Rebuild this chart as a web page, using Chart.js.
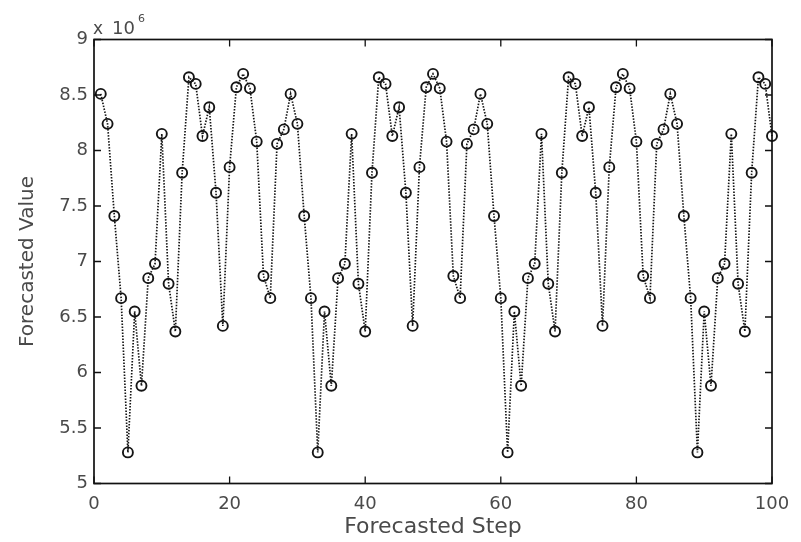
<!DOCTYPE html>
<html>
<head>
<meta charset="utf-8">
<script src="https://cdn.jsdelivr.net/npm/chart.js@4/dist/chart.umd.min.js"></script>
<style>
  html, body { margin: 0; padding: 0; background: #fff; }
  #wrap { width: 801px; height: 542px; }
</style>
</head>
<body>
<div id="wrap"><canvas id="c" width="801" height="542"></canvas></div>
<script>
// Forecast horizon (x) and forecasted values in millions (y)
const steps = [
  1, 2, 3, 4, 5, 6, 7, 8, 9, 10,
  11, 12, 13, 14, 15, 16, 17, 18, 19, 20,
  21, 22, 23, 24, 25, 26, 27, 28, 29, 30,
  31, 32, 33, 34, 35, 36, 37, 38, 39, 40,
  41, 42, 43, 44, 45, 46, 47, 48, 49, 50,
  51, 52, 53, 54, 55, 56, 57, 58, 59, 60,
  61, 62, 63, 64, 65, 66, 67, 68, 69, 70,
  71, 72, 73, 74, 75, 76, 77, 78, 79, 80,
  81, 82, 83, 84, 85, 86, 87, 88, 89, 90,
  91, 92, 93, 94, 95, 96, 97, 98, 99, 100
];
const forecastMillions = [
  8.51, 8.24, 7.41, 6.67, 5.28, 6.55, 5.88, 6.85, 6.98, 8.15,
  6.80, 6.37, 7.80, 8.66, 8.60, 8.13, 8.39, 7.62, 6.42, 7.85,
  8.57, 8.69, 8.56, 8.08, 6.87, 6.67, 8.06, 8.19, 8.51, 8.24,
  7.41, 6.67, 5.28, 6.55, 5.88, 6.85, 6.98, 8.15, 6.80, 6.37,
  7.80, 8.66, 8.60, 8.13, 8.39, 7.62, 6.42, 7.85, 8.57, 8.69,
  8.56, 8.08, 6.87, 6.67, 8.06, 8.19, 8.51, 8.24, 7.41, 6.67,
  5.28, 6.55, 5.88, 6.85, 6.98, 8.15, 6.80, 6.37, 7.80, 8.66,
  8.60, 8.13, 8.39, 7.62, 6.42, 7.85, 8.57, 8.69, 8.56, 8.08,
  6.87, 6.67, 8.06, 8.19, 8.51, 8.24, 7.41, 6.67, 5.28, 6.55,
  5.88, 6.85, 6.98, 8.15, 6.80, 6.37, 7.80, 8.66, 8.60, 8.13
];
const xTicks = [0, 20, 40, 60, 80, 100];
const yTicks = [5, 5.5, 6, 6.5, 7, 7.5, 8, 8.5, 9];
const xTitle = 'Forecasted Step';
const yTitle = 'Forecasted Value';
const exponentBase = 'x 10';
const exponentPower = '6';

const FONT = '"DejaVu Sans", sans-serif';
const TEXT = '#4a4a4a';

// Boxed axes with inward tick marks on all four sides, plus the axis multiplier
const boxAxes = {
  id: 'boxAxes',
  afterDatasetsDraw(chart) {
    const { ctx, chartArea: a, scales: { x, y } } = chart;
    const L = 7;
    ctx.save();
    ctx.strokeStyle = '#111';
    ctx.lineWidth = 1.7;
    ctx.strokeRect(a.left, a.top, a.right - a.left, a.bottom - a.top);
    ctx.lineWidth = 1.3;
    ctx.beginPath();
    xTicks.forEach(v => {
      const px = x.getPixelForValue(v);
      ctx.moveTo(px, a.bottom); ctx.lineTo(px, a.bottom - L);
      ctx.moveTo(px, a.top); ctx.lineTo(px, a.top + L);
    });
    yTicks.forEach(v => {
      const py = y.getPixelForValue(v);
      ctx.moveTo(a.left, py); ctx.lineTo(a.left + L, py);
      ctx.moveTo(a.right, py); ctx.lineTo(a.right - L, py);
    });
    ctx.stroke();

    ctx.fillStyle = TEXT;
    ctx.textAlign = 'left';
    ctx.textBaseline = 'alphabetic';
    ctx.font = '17px ' + FONT;
    const bx = a.left - 1, by = a.top - 6;
    ctx.fillText('x', bx, by);
    ctx.font = '18px ' + FONT;
    ctx.fillText('10', bx + 19, by);
    const w = ctx.measureText('10').width;
    ctx.font = '11px ' + FONT;
    ctx.fillText(exponentPower, bx + 19 + w + 3, by - 12);
    ctx.restore();
  }
};

const points = steps.map((s, i) => ({ x: s, y: forecastMillions[i] }));

new Chart(document.getElementById('c'), {
  type: 'line',
  data: {
    datasets: [{
      data: points,
      borderColor: '#151515',
      borderWidth: 1.7,
      borderDash: [1.5, 1.5],
      tension: 0,
      pointStyle: 'circle',
      pointRadius: 5,
      pointBorderWidth: 1.9,
      pointBorderColor: '#151515',
      pointBackgroundColor: 'rgba(0,0,0,0)',
      clip: false
    }]
  },
  options: {
    responsive: false,
    animation: false,
    devicePixelRatio: 1,
    layout: { padding: { left: 0, right: 29, top: 39.5, bottom: 0 } },
    plugins: { legend: { display: false }, tooltip: { enabled: false } },
    scales: {
      x: {
        type: 'linear',
        min: 0, max: 100,
        afterBuildTicks: s => { s.ticks = xTicks.map(v => ({ value: v })); },
        afterFit: s => { s.height = 58.5; },
        grid: { display: false, drawTicks: false },
        border: { display: false },
        ticks: {
          padding: 10,
          color: TEXT,
          font: { family: FONT, size: 18 },
          callback: v => String(v),
          maxRotation: 0
        },
        title: {
          display: true,
          text: xTitle,
          color: TEXT,
          font: { family: FONT, size: 22 },
          padding: { top: 0, bottom: 1.5 }
        }
      },
      y: {
        type: 'linear',
        min: 5, max: 9,
        afterBuildTicks: s => { s.ticks = yTicks.map(v => ({ value: v })); },
        afterFit: s => { s.width = 94; },
        grid: { display: false, drawTicks: false },
        border: { display: false },
        ticks: {
          padding: 6,
          color: TEXT,
          font: { family: FONT, size: 18 },
          callback: v => String(v)
        },
        title: {
          display: true,
          text: yTitle,
          color: TEXT,
          font: { family: FONT, size: 20 },
          padding: { top: 16, bottom: 0 }
        }
      }
    }
  },
  plugins: [boxAxes]
});
</script>
</body>
</html>
